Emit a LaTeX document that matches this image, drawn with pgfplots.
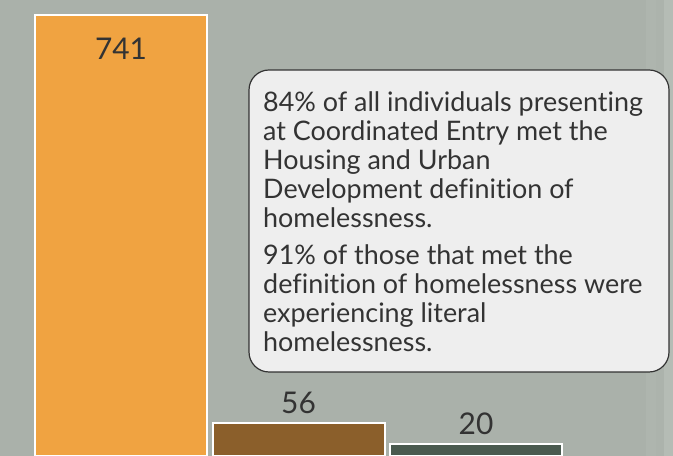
\documentclass[border=0pt]{standalone}
\usepackage{fontspec}
\setmainfont{Lato}[Ligatures={NoCommon}]
\usepackage{pgfplots}
\pgfplotsset{compat=1.18}
\definecolor{bg}{HTML}{AAB1AA}
\definecolor{stripeA}{HTML}{AEB5AE}
\definecolor{stripeB}{HTML}{ACB3AC}
\definecolor{stripeC}{HTML}{B5BCB5}
\definecolor{barOrange}{HTML}{F0A341}
\definecolor{barBrown}{HTML}{8B5F2B}
\definecolor{barGreen}{HTML}{4A5A4F}
\definecolor{txt}{HTML}{333333}
\definecolor{boxfill}{HTML}{EEEEEE}
\begin{document}
\begin{tikzpicture}[x=1bp,y=1bp]
\useasboundingbox (0,0) rectangle (673,456);
\fill[bg] (0,0) rectangle (673,456);
\fill[stripeA] (646,0) rectangle (656,456);
\fill[stripeB] (656,0) rectangle (664,456);
\fill[stripeC] (664,0) rectangle (673,456);
\begin{axis}[
  at={(0,0)}, anchor=south west,
  scale only axis, width=673bp, height=456bp,
  xmin=-0.6817, xmax=3.1099, ymin=0, ymax=766.2,
  axis lines=none, ticks=none,
  ybar, bar shift=0pt, bar width=172bp,
  /pgf/number format/assume math mode=true,
  nodes near coords={\fontsize{30}{36}\selectfont\pgfmathprintnumber{\pgfplotspointmeta}},
  every node near coord/.append style={text=txt},
]
\addplot[fill=barOrange, draw=white, line width=2bp,
  nodes near coords style={anchor=center, yshift=-34bp}]
  coordinates {(0,741)};
\addplot[fill=barBrown, draw=white, line width=2bp,
  nodes near coords style={anchor=center, yshift=20bp}]
  coordinates {(1,56)};
\addplot[fill=barGreen, draw=white, line width=2bp,
  nodes near coords style={anchor=center, yshift=20bp}]
  coordinates {(2,20)};
\end{axis}
\draw[fill=boxfill, draw=txt, line width=1.2bp, rounded corners=20bp]
  (249,84) rectangle (669,386);
\begin{scope}[every node/.style={anchor=base west, inner sep=0pt, text=txt, font=\fontsize{27}{29}\selectfont}]
\node at (263,344) {84\% of all individuals presenting};
\node at (263,315) {at Coordinated Entry met the};
\node at (263,286) {Housing and Urban};
\node at (263,257) {Development definition of};
\node at (263,228) {homelessness.};
\node at (263,191) {91\% of those that met the};
\node at (263,162) {definition of homelessness were};
\node at (263,133) {experiencing literal};
\node at (263,104) {homelessness.};
\end{scope}
\end{tikzpicture}
\end{document}
